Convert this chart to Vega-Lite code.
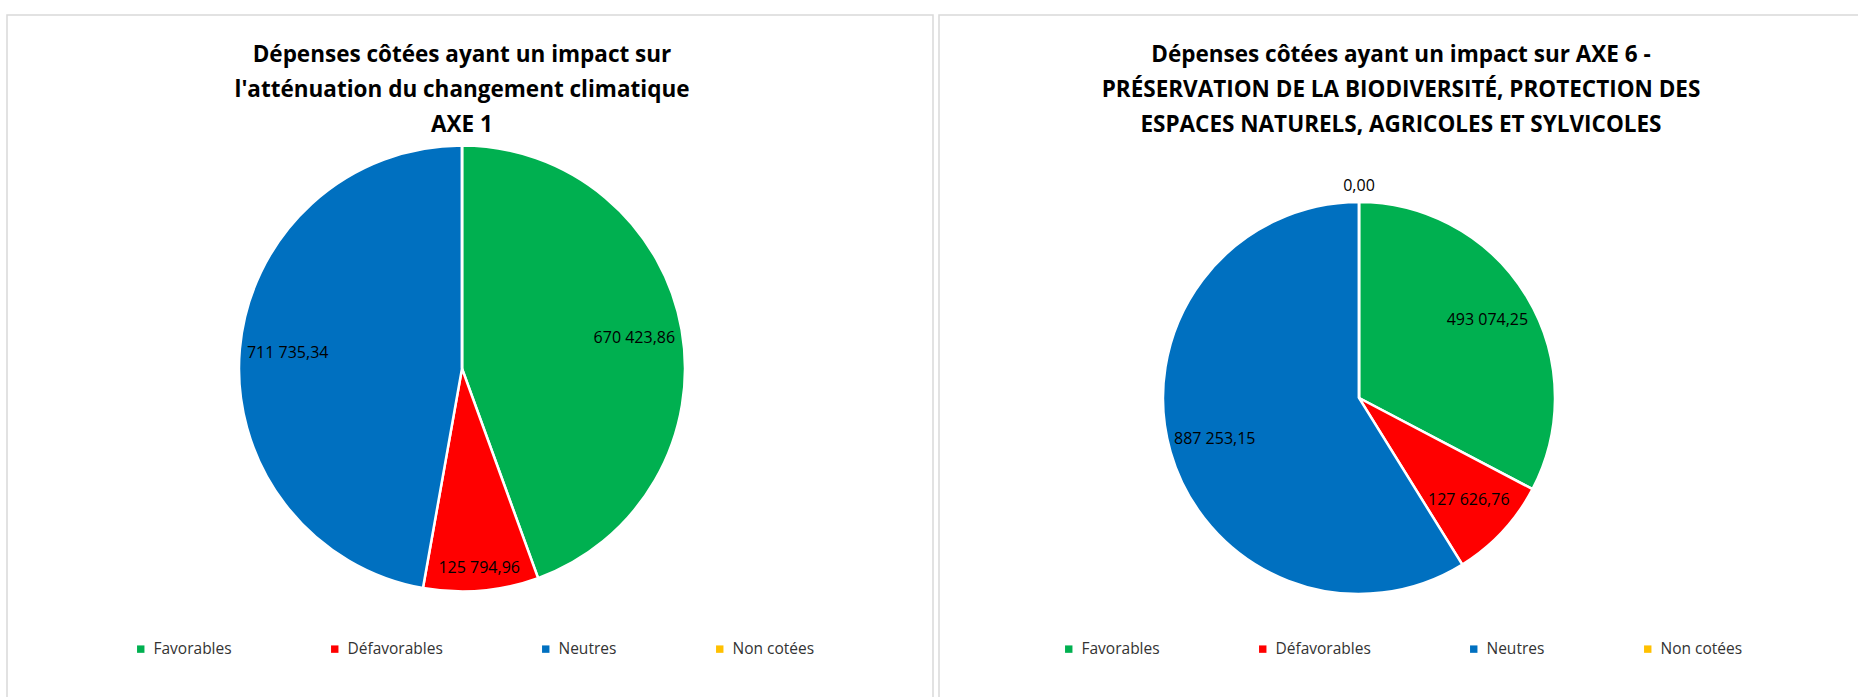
{
  "$schema": "https://vega.github.io/schema/vega-lite/v6.json",
  "background": "white",
  "padding": {"left": 6, "top": 14, "right": 0, "bottom": 0},
  "datasets": {
    "axe1": [
      {"categorie": "Favorables", "rang": 1, "montant": 670423.86},
      {"categorie": "Défavorables", "rang": 2, "montant": 125794.96},
      {"categorie": "Neutres", "rang": 3, "montant": 711735.34},
      {"categorie": "Non cotées", "rang": 4, "montant": 0}
    ],
    "axe6": [
      {"categorie": "Favorables", "rang": 1, "montant": 493074.25},
      {"categorie": "Défavorables", "rang": 2, "montant": 127626.76},
      {"categorie": "Neutres", "rang": 3, "montant": 887253.15},
      {"categorie": "Non cotées", "rang": 4, "montant": 0}
    ]
  },
  "spacing": 4,
  "resolve": {"scale": {"color": "independent", "theta": "independent"}, "legend": {"color": "independent"}},
  "hconcat": [
    {
      "width": 926,
      "height": 707,
      "view": {"stroke": "#d9d9d9", "strokeWidth": 1.5, "fill": "white"},
      "data": {"name": "axe1"},
      "title": {
        "text": ["Dépenses côtées ayant un impact sur", "l'atténuation du changement climatique", "AXE 1"],
        "offset": -121,
        "dx": -8
      },
      "layer": [
        {
          "mark": {"type": "arc", "outerRadius": 223, "stroke": "white", "strokeWidth": 2.5, "xOffset": -8},
          "encoding": {
            "theta": {"field": "montant", "type": "quantitative", "stack": true},
            "order": {"field": "rang", "type": "quantitative"},
            "color": {
              "field": "categorie",
              "type": "nominal",
              "scale": {"domain": ["Favorables", "Défavorables", "Neutres", "Non cotées"], "range": ["#00B050", "#FF0000", "#0070C0", "#FFC000"]},
              "legend": {"orient": "none", "legendX": 126, "legendY": 626}
            }
          }
        },
        {
          "transform": [{"filter": "datum.montant > 0"}],
          "mark": {"type": "text", "radius": {"expr": "datum.categorie == 'Défavorables' ? 200 : 175"}, "xOffset": -8, "fontSize": 16, "font": "Open Sans", "color": "#000000"},
          "encoding": {
            "theta": {"field": "montant", "type": "quantitative", "stack": true},
            "order": {"field": "rang", "type": "quantitative"},
            "detail": {"field": "categorie", "type": "nominal"},
            "text": {"field": "montant", "type": "quantitative", "format": ",.2f"}
          }
        }
      ]
    },
    {
      "width": 920,
      "height": 766,
      "view": {"stroke": "#d9d9d9", "strokeWidth": 1.5, "fill": "white"},
      "data": {"name": "axe6"},
      "title": {
        "text": ["Dépenses côtées ayant un impact sur AXE 6 -", "PRÉSERVATION DE LA BIODIVERSITÉ, PROTECTION DES", "ESPACES NATURELS, AGRICOLES ET SYLVICOLES"],
        "offset": -121,
        "dx": 2
      },
      "layer": [
        {
          "mark": {"type": "arc", "outerRadius": 196, "stroke": "white", "strokeWidth": 2.5, "xOffset": -40},
          "encoding": {
            "theta": {"field": "montant", "type": "quantitative", "stack": true},
            "order": {"field": "rang", "type": "quantitative"},
            "color": {
              "field": "categorie",
              "type": "nominal",
              "scale": {"domain": ["Favorables", "Défavorables", "Neutres", "Non cotées"], "range": ["#00B050", "#FF0000", "#0070C0", "#FFC000"]},
              "legend": {"orient": "none", "legendX": 122, "legendY": 626}
            }
          }
        },
        {
          "transform": [{"filter": "datum.montant > 0"}],
          "mark": {"type": "text", "radius": 150, "xOffset": -40, "fontSize": 16, "font": "Open Sans", "color": "#000000"},
          "encoding": {
            "theta": {"field": "montant", "type": "quantitative", "stack": true},
            "order": {"field": "rang", "type": "quantitative"},
            "detail": {"field": "categorie", "type": "nominal"},
            "text": {"field": "montant", "type": "quantitative", "format": ",.2f"}
          }
        },
        {
          "transform": [{"filter": "datum.montant == 0"}],
          "mark": {"type": "text", "radius": 212, "xOffset": -40, "fontSize": 16, "font": "Open Sans", "color": "#000000"},
          "encoding": {
            "theta": {"field": "montant", "type": "quantitative", "stack": true},
            "order": {"field": "rang", "type": "quantitative"},
            "detail": {"field": "categorie", "type": "nominal"},
            "text": {"field": "montant", "type": "quantitative", "format": ",.2f"}
          }
        }
      ]
    }
  ],
  "config": {
    "locale": {"number": {"decimal": ",", "thousands": "\u00a0", "grouping": [3], "currency": ["", "\u00a0€"]}},
    "font": "Open Sans",
    "view": {"stroke": "#d9d9d9", "strokeWidth": 1.5},
    "title": {"font": "Open Sans", "fontSize": 22.5, "fontWeight": "bold", "color": "#000000", "lineHeight": 35, "anchor": "middle", "frame": "group"},
    "legend": {
      "direction": "horizontal",
      "title": null,
      "symbolType": "square",
      "symbolSize": 55,
      "symbolStrokeWidth": 0,
      "labelFont": "Open Sans",
      "labelFontSize": 15.5,
      "labelColor": "#333333",
      "labelOffset": 5,
      "columnPadding": 95,
      "padding": 0
    }
  }
}
